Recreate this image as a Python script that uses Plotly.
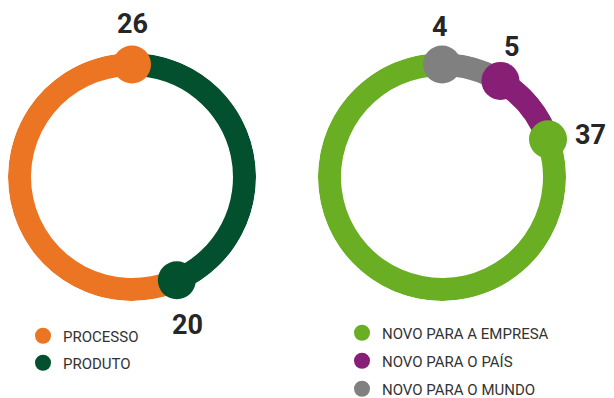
import plotly.graph_objects as go

# Inovação por tipo (anel da esquerda) e por grau de novidade (anel da direita)
tipo_labels = ["PROCESSO", "PRODUTO"]
tipo_values = [26, 20]
tipo_colors = ["#EB7522", "#02502E"]

novidade_labels = ["NOVO PARA A EMPRESA", "NOVO PARA O PAÍS", "NOVO PARA O MUNDO"]
novidade_values = [37, 5, 4]
novidade_colors = ["#6AAF23", "#881F77", "#808080"]

FONT = "Roboto, Liberation Sans, sans-serif"
# the page body keeps an 8px margin, so everything is shifted by it
OFF = 8
W, H = 614 - OFF, 398 - OFF
R_OUT = 124
THICK = 23
R_MID = R_OUT - THICK / 2


def px_x(x):
    return min(max((x - OFF) / W, 0), 1)


def px_y(y):
    return min(max((H - (y - OFF)) / H, 0), 1)


def segments(values, order):
    # angles clockwise from the top, following the drawing order
    total = sum(values)
    start = 0
    out = {}
    for i in order:
        span = values[i] / total * 360
        out[i] = (start, span)
        start += span
    return out


fig = go.Figure()
legend_names = ["legend", "legend2", "legend3", "legend4", "legend5"]

# ---- left ring: produto clockwise from top, then processo
seg_l = segments(tipo_values, [1, 0])
for i in [1, 0]:
    start, span = seg_l[i]
    fig.add_trace(go.Barpolar(
        r=[THICK], base=[R_OUT - THICK], theta=[start + span / 2], width=[span],
        marker=dict(color=tipo_colors[i], line=dict(width=0)),
        showlegend=False, hoverinfo="skip", subplot="polar",
    ))
# dots: processo at top, produto at the end of its arc
dot_l = {0: 0, 1: seg_l[1][1]}
for i in [0, 1]:
    fig.add_trace(go.Scatterpolar(
        r=[R_MID], theta=[dot_l[i]], mode="markers", name=tipo_labels[i],
        marker=dict(color=tipo_colors[i], size=38), cliponaxis=False,
        subplot="polar", legend=legend_names[i],
    ))

# ---- right ring: mundo, país, empresa clockwise from top
seg_r = segments(novidade_values, [2, 1, 0])
for i in [0, 1, 2]:
    start, span = seg_r[i]
    fig.add_trace(go.Barpolar(
        r=[THICK], base=[R_OUT - THICK], theta=[start + span / 2], width=[span],
        marker=dict(color=novidade_colors[i], line=dict(width=0)),
        showlegend=False, hoverinfo="skip", subplot="polar2",
    ))
for i in [0, 1, 2]:
    fig.add_trace(go.Scatterpolar(
        r=[R_MID], theta=[seg_r[i][0]], mode="markers", name=novidade_labels[i],
        marker=dict(color=novidade_colors[i], size=38), cliponaxis=False,
        subplot="polar2", legend=legend_names[2 + i],
    ))

polar_common = dict(
    bgcolor="rgba(0,0,0,0)",
    bargap=0,
    radialaxis=dict(range=[0, R_OUT], visible=False),
    angularaxis=dict(rotation=90, direction="clockwise", visible=False),
)

fig.update_layout(
    width=W, height=H,
    margin=dict(l=0, r=0, t=0, b=0, autoexpand=False),
    paper_bgcolor="white",
    plot_bgcolor="white",
    font=dict(family=FONT, color="#262626"),
    polar=dict(domain=dict(x=[px_x(132 - R_OUT), px_x(132 + R_OUT)],
                           y=[px_y(177 + R_OUT), px_y(177 - R_OUT)]), **polar_common),
    polar2=dict(domain=dict(x=[px_x(442 - R_OUT), px_x(442 + R_OUT)],
                            y=[px_y(177 + R_OUT), px_y(177 - R_OUT)]), **polar_common),
)

# one legend per entry so each row sits where the reference has it
legend_pos = [(23, 336), (23, 363), (342, 333), (342, 361), (342, 389)]
for name, (lx, ly) in zip(legend_names, legend_pos):
    fig.update_layout({name: dict(
        x=px_x(lx), y=px_y(ly), xanchor="left", yanchor="middle",
        font=dict(size=15, color="#333333", family=FONT), bgcolor="rgba(0,0,0,0)",
    )})

# value labels
label_pos = [
    (str(tipo_values[0]), 132, 24),
    (str(tipo_values[1]), 187, 325),
    (str(novidade_values[2]), 440, 27),
    (str(novidade_values[1]), 512, 47),
    (str(novidade_values[0]), 590, 135),
]
for text, x, y in label_pos:
    fig.add_annotation(
        x=px_x(x), y=px_y(y), xref="paper", yref="paper", text=f"<b>{text}</b>",
        showarrow=False, font=dict(size=27, family=FONT, color="#262626"),
        xanchor="center", yanchor="middle",
    )

fig.write_html("out.html")
